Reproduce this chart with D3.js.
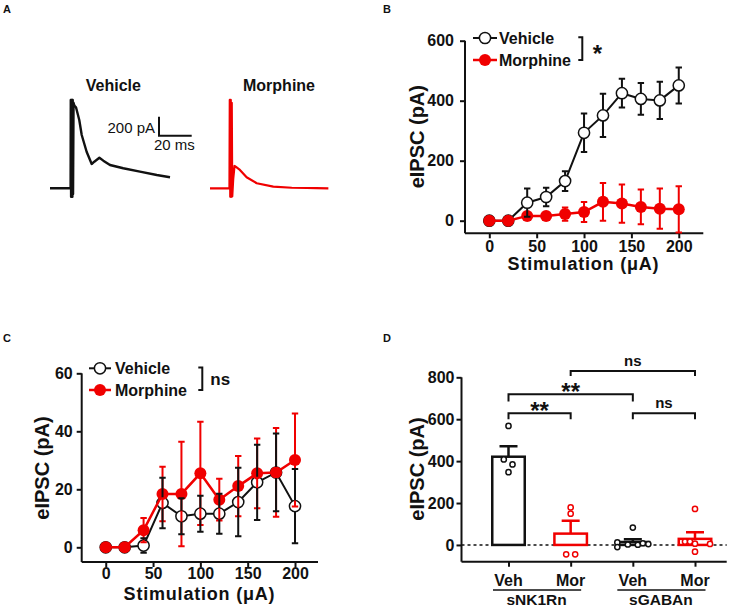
<!DOCTYPE html>
<html><head><meta charset="utf-8">
<script src="https://cdn.jsdelivr.net/npm/d3@7"></script>
<style>
body{margin:0;background:#fff}
svg{display:block}
text{font-family:"Liberation Sans",Arial,sans-serif}
</style>
</head><body>
<svg id="fig" width="742" height="610"></svg>
<script>
// ---------------- DATA ----------------
// Panel A: example traces (time in ms, current in pA)
const traceVehT = [0, 12.6, 12.7, 12.9, 13.1, 13.3, 13.5, 13.7, 13.9, 14.1, 14.4, 14.9, 15.9, 17.9, 19.4, 22.4, 25.5, 27.1, 30.2, 32.6, 36.7, 44.8, 55.0, 65.3, 73.4];
const traceVehI = [0, 0, 930, -90, 930, -90, 930, -90, 930, -60, 900, 870, 853, 719, 561, 385, 256, 280, 322, 291, 245, 211, 175, 140, 116];
const traceMorT = [0, 11.9, 12.1, 12.4, 12.7, 13.0, 13.3, 13.6, 14.2, 15.0, 15.9, 18.3, 22.4, 28.6, 38.7, 50.0, 59.1, 65.0, 72.4];
const traceMorI = [0, 0, 930, -90, 930, -90, 900, -85, 100, 235, 225, 193, 116, 53, 17, 6, 3, 2, 0];
const scaleBarPA = 200;
const scaleBarMs = 20;

// Panels B and C: stimulation intensities (µA)
const stimulation = [0, 20, 40, 60, 80, 100, 120, 140, 160, 180, 200];
const vehicleB = [0, 0, 60, 79, 132, 293, 351, 425, 406, 401, 451];
const vehicleBErr = [0, 0, 47, 31, 33, 64, 72, 48, 53, 62, 60];
const morphineB = [0, 0, 16, 16, 22, 29, 63, 57, 46, 40, 38];
const morphineBErr = [0, 0, 8, 8, 22, 33, 63, 64, 58, 67, 77];

const vehicleC = [0, 0, 0.6, 15.3, 10.7, 11.6, 11.6, 15.6, 22.4, 25.8, 14.2];
const vehicleCErr = [0, 0, 2.5, 8.7, 6.2, 6.2, 6.9, 11.8, 13, 13.4, 12.8];
const morphineC = [0, 0, 5.9, 18.4, 18.4, 25.5, 16.4, 21.1, 25.5, 25.8, 30.1];
const morphineCErr = [0, 0, 4.2, 9.4, 18, 17.8, 7.2, 10.4, 12, 15.3, 16];

const xTicksStim = [0, 50, 100, 150, 200];
const yTicksB = [0, 200, 400, 600];
const yTicksC = [0, 20, 40, 60];

// Panel D
const dCategories = ["sNK1Rn-Veh", "sNK1Rn-Mor", "sGABAn-Veh", "sGABAn-Mor"];
const dLabels = ["Veh", "Mor", "Veh", "Mor"];
const dGroups = ["sNK1Rn", "sGABAn"];
const dMeans = [421, 54, 14, 29];
const dSem = [50, 62, 13, 31];
const dPoints = [[568, 408, 384, 347], [179, 149, -45, -45], [83, 12, -10, 2, 1, 8, 4], [172, 16, 16, 6, 5, -32]];
const dComparisons = [["sNK1Rn-Veh", "sNK1Rn-Mor", "**"], ["sNK1Rn-Veh", "sGABAn-Veh", "**"], ["sNK1Rn-Mor", "sGABAn-Mor", "ns"], ["sGABAn-Veh", "sGABAn-Mor", "ns"]];
const yTicksD = [0, 200, 400, 600, 800];

// ---------------- DRAWING ----------------
const RED = "#f00000";
const INK = "#111";
const FONT = '"Liberation Sans", Arial, sans-serif';
const svg = d3.select("#fig");

function styleAxis(g, size) {
  g.attr("font-family", FONT).attr("font-size", size).attr("font-weight", "bold");
  g.selectAll("path,line").attr("stroke", INK).attr("stroke-width", 2);
  g.selectAll("text").attr("fill", INK);
}
function label(x, y, t, opt = {}) {
  const el = svg.append("text").attr("x", x).attr("y", y).text(t)
    .attr("font-size", opt.size || 16).attr("font-weight", opt.weight || "bold")
    .attr("fill", opt.fill || INK).attr("text-anchor", opt.anchor || "middle");
  if (opt.spacing) el.attr("letter-spacing", opt.spacing);
  if (opt.rotate) el.attr("transform", `rotate(-90,${x},${y})`);
  return el;
}

// Panel letters
label(3, 13, "A", {size: 11, anchor: "start"});
label(383, 13, "B", {size: 11, anchor: "start"});
label(3, 342, "C", {size: 11, anchor: "start"});
label(383, 342, "D", {size: 11, anchor: "start"});

// ---------- Panel A ----------
(function () {
  const kx = 32.7 / 20, ky = 19 / 200;
  const yA = d3.scaleLinear().domain([0, 200]).range([188.3, 188.3 - 200 * ky]);
  const xV = d3.scaleLinear().domain([0, 20]).range([50, 50 + 20 * kx]);
  const xM = d3.scaleLinear().domain([0, 20]).range([210, 210 + 20 * kx]);
  const line = (xs) => d3.line().x(d => xs(d[0])).y(d => yA(d[1]));
  svg.append("path").attr("d", line(xV)(traceVehT.map((t, i) => [t, traceVehI[i]])))
    .attr("fill", "none").attr("stroke", INK).attr("stroke-width", 2.4).attr("stroke-linejoin", "round");
  svg.append("path").attr("d", line(xM)(traceMorT.map((t, i) => [t, traceMorI[i]])))
    .attr("fill", "none").attr("stroke", RED).attr("stroke-width", 2.2).attr("stroke-linejoin", "round");
  label(113.3, 90.7, "Vehicle");
  label(279, 90.7, "Morphine");
  // scale bar
  const sx = 159, sy = 135.7;
  const vLen = yA(0) - yA(scaleBarPA), hLen = xV(scaleBarMs) - xV(0);
  svg.append("path").attr("d", `M${sx},${sy - vLen}V${sy}H${sx + hLen}`)
    .attr("fill", "none").attr("stroke", INK).attr("stroke-width", 2);
  label(155, 132.5, `${scaleBarPA} pA`, {size: 15, weight: "normal", anchor: "end"});
  label(154, 150, `${scaleBarMs} ms`, {size: 15, weight: "normal", anchor: "start"});
})();

// ---------- Panels B & C ----------
function stimPanel(cfg) {
  const x = d3.scaleLinear().domain(cfg.xDom).range(cfg.xRange);
  const y = d3.scaleLinear().domain(cfg.yDom).range(cfg.yRange);
  const gx = svg.append("g").attr("transform", `translate(0,${cfg.yRange[0]})`)
    .call(d3.axisBottom(x).tickValues(xTicksStim).tickSize(5).tickPadding(cfg.xPad).tickSizeOuter(0));
  styleAxis(gx, 16);
  const gy = svg.append("g").attr("transform", `translate(${cfg.xRange[0]},0)`)
    .call(d3.axisLeft(y).tickValues(cfg.yTicks).tickSize(5).tickPadding(cfg.yPad).tickSizeOuter(0));
  styleAxis(gy, 16);
  gy.select(".domain").attr("d", `M0,${y(cfg.yTicks[cfg.yTicks.length - 1])}V${cfg.yRange[0]}`);
  gx.select(".domain").attr("d", `M${cfg.xRange[0]},0H${cfg.xRange[1]}`);

  const r = 5.6, cap = 3.2;
  const veh = stimulation.map((s, i) => ({x: s, v: cfg.veh[i], e: cfg.vehErr[i]}));
  const mor = stimulation.map((s, i) => ({x: s, v: cfg.mor[i], e: cfg.morErr[i]}));
  const ln = d3.line().x(d => x(d.x)).y(d => y(d.v));
  // vehicle line & markers
  svg.append("path").attr("d", ln(veh)).attr("fill", "none").attr("stroke", INK).attr("stroke-width", 2);
  svg.append("g").selectAll("circle").data(veh).join("circle")
    .attr("cx", d => x(d.x)).attr("cy", d => y(d.v)).attr("r", r)
    .attr("fill", "#fff").attr("stroke", INK).attr("stroke-width", 1.5);
  // morphine
  svg.append("path").attr("d", ln(mor)).attr("fill", "none").attr("stroke", RED).attr("stroke-width", 2.5);
  const mg = svg.append("g").attr("stroke", RED).attr("stroke-width", 2);
  mor.filter(d => d.e > 0).forEach(d => {
    const cx = x(d.x), t = y(d.v + d.e), b = y(d.v - d.e);
    mg.append("path").attr("d", `M${cx},${t}V${b}M${cx - cap},${t}H${cx + cap}M${cx - cap},${b}H${cx + cap}`).attr("fill", "none");
  });
  svg.append("g").selectAll("circle").data(mor).join("circle")
    .attr("cx", d => x(d.x)).attr("cy", d => y(d.v)).attr("r", r + 0.4).attr("fill", RED);
  // vehicle error bars (outside marker)
  const vg = svg.append("g").attr("stroke", INK).attr("stroke-width", 2).attr("fill", "none");
  veh.filter(d => d.e > 0).forEach(d => {
    const cx = x(d.x), cy = y(d.v), t = y(d.v + d.e), b = y(d.v - d.e);
    let p = "";
    if (cy - t > r) p += `M${cx},${cy - r}V${t}`;
    p += `M${cx - cap},${t}H${cx + cap}`;
    if (b - cy > r) p += `M${cx},${cy + r}V${b}`;
    p += `M${cx - cap},${b}H${cx + cap}`;
    vg.append("path").attr("d", p);
  });

  // legend
  const L = cfg.legend;
  svg.append("line").attr("x1", L.x0).attr("x2", L.x1).attr("y1", L.y1).attr("y2", L.y1).attr("stroke", INK).attr("stroke-width", 2);
  svg.append("circle").attr("cx", (L.x0 + L.x1) / 2).attr("cy", L.y1).attr("r", r).attr("fill", "#fff").attr("stroke", INK).attr("stroke-width", 1.5);
  svg.append("line").attr("x1", L.x0).attr("x2", L.x1).attr("y1", L.y2).attr("y2", L.y2).attr("stroke", RED).attr("stroke-width", 2.5);
  svg.append("circle").attr("cx", (L.x0 + L.x1) / 2).attr("cy", L.y2).attr("r", r + 0.4).attr("fill", RED);
  label(L.tx, L.y1 + 5.5, "Vehicle", {anchor: "start"});
  label(L.tx, L.y2 + 5.5, "Morphine", {anchor: "start"});
  svg.append("path").attr("d", `M${L.bx - 4},${L.y1 - 0.7}H${L.bx}V${L.y2}H${L.bx - 4}`)
    .attr("fill", "none").attr("stroke", INK).attr("stroke-width", 2);
  if (L.sig === "*") label(L.bx + 15, L.y1 + 24, "*", {size: 24});
  else label(L.bx + 8, L.y1 + 17, L.sig, {size: 17, anchor: "start"});

  // axis titles
  label(cfg.yLab[0], cfg.yLab[1], "eIPSC (pA)", {size: 20, rotate: true});
  label(cfg.xLab[0], cfg.xLab[1], "Stimulation (\u03bcA)", {size: 18, spacing: 0.8});
}

stimPanel({
  xDom: [-25.66, 225.9], xRange: [465, 703.3],
  yDom: [-42, 600], yRange: [233.3, 40.7], yTicks: yTicksB, yPad: 6, xPad: 2,
  veh: vehicleB, vehErr: vehicleBErr, mor: morphineB, morErr: morphineBErr,
  legend: {x0: 473, x1: 497, y1: 38, y2: 60, tx: 499, bx: 582.3, sig: "*"},
  yLab: [424, 136.7], xLab: [583.5, 269.5]
});
stimPanel({
  xDom: [-25.4, 224.3], xRange: [81.7, 318],
  yDom: [-5.07, 60], yRange: [562, 373.3], yTicks: yTicksC, yPad: 4, xPad: 1,
  veh: vehicleC, vehErr: vehicleCErr, mor: morphineC, morErr: morphineCErr,
  legend: {x0: 89, x1: 111, y1: 368.3, y2: 390, tx: 115, bx: 202.3, sig: "ns"},
  yLab: [49, 468], xLab: [199.5, 600]
});

// ---------- Panel D ----------
(function () {
  const x = d3.scalePoint().domain(dCategories).range([508.5, 695]);
  const y = d3.scaleLinear().domain([-80, 800]).range([561.7, 377.3]);
  const x0 = 461.5, x1 = 726.7;
  const gy = svg.append("g").attr("transform", `translate(${x0},0)`)
    .call(d3.axisLeft(y).tickValues(yTicksD).tickSize(5).tickPadding(2).tickSizeOuter(0));
  styleAxis(gy, 16);
  gy.select(".domain").attr("d", `M0,${y(800)}V${y(-80)}`);
  const gx = svg.append("g").attr("transform", `translate(0,${y(-80)})`)
    .call(d3.axisBottom(x).tickSize(5).tickFormat(() => "").tickSizeOuter(0));
  styleAxis(gx, 16);
  gx.select(".domain").attr("d", `M${x0},0H${x1}`);

  // dashed zero line
  svg.append("line").attr("x1", x0).attr("x2", x1).attr("y1", y(0)).attr("y2", y(0))
    .attr("stroke", INK).attr("stroke-width", 1.5).attr("stroke-dasharray", "3,3");

  const bw = 32.5, cap = 9;
  const jitter = [[0, -4.7, 4, 0], [0, 0, -4.5, 4.5], [0, -15.5, -15.5, -5, 5, 10, 15.5], [0, -10, -5, 0, 15, 0]];
  dCategories.forEach((c, i) => {
    const col = i % 2 === 0 ? INK : RED;
    const cx = x(c);
    svg.append("rect").attr("x", cx - bw / 2).attr("y", y(dMeans[i])).attr("width", bw)
      .attr("height", y(0) - y(dMeans[i])).attr("fill", "#fff").attr("stroke", col).attr("stroke-width", 2.5);
    const t = y(dMeans[i] + dSem[i]);
    svg.append("path").attr("d", `M${cx},${y(dMeans[i])}V${t}M${cx - cap},${t}H${cx + cap}`)
      .attr("fill", "none").attr("stroke", col).attr("stroke-width", 2.5);
    svg.append("g").selectAll("circle").data(dPoints[i]).join("circle")
      .attr("cx", (d, j) => cx + jitter[i][j]).attr("cy", d => y(d)).attr("r", 2.6)
      .attr("fill", "#fff").attr("stroke", col).attr("stroke-width", 1.5);
  });

  // significance brackets
  const brk = [[628, 600], [719, 684], [830, 806], [628, 600]];
  dComparisons.forEach((c, i) => {
    const a = x(c[0]), b = x(c[1]), h = y(brk[i][0]), lo = y(brk[i][1]);
    svg.append("path").attr("d", `M${a},${lo}V${h}H${b}V${lo}`)
      .attr("fill", "none").attr("stroke", INK).attr("stroke-width", 2);
    const mx = (a + b) / 2;
    if (c[2] === "**") label(mx, h + 6, "**", {size: 24});
    else label(mx, h - 5.5, "ns", {size: 15});
  });

  // category labels
  dCategories.forEach((c, i) => label(x(c), 586, dLabels[i], {size: 16}));
  dGroups.forEach((g, k) => {
    const a = x(dCategories[2 * k]), b = x(dCategories[2 * k + 1]);
    svg.append("line").attr("x1", a - 15.5).attr("x2", b + 10.5).attr("y1", 590).attr("y2", 590)
      .attr("stroke", INK).attr("stroke-width", 1.5);
    label((a + b) / 2 - 3, 605, g, {size: 15.5});
  });

  label(424, 469, "eIPSC (pA)", {size: 20, rotate: true});
})();
</script>
</body></html>
